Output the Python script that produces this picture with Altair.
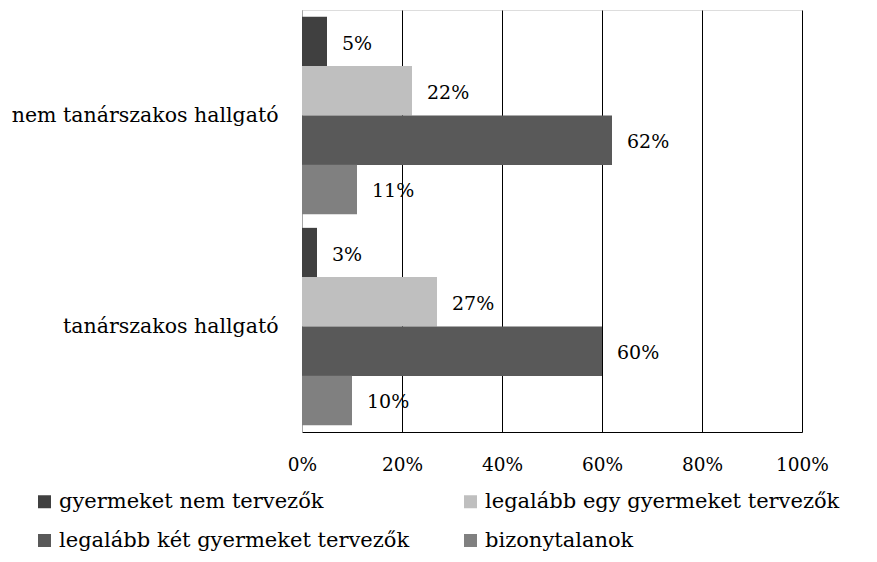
import altair as alt
import pandas as pd

groups = ["nem tanárszakos hallgató", "tanárszakos hallgató"]
series = [
    "gyermeket nem tervezők",
    "legalább egy gyermeket tervezők",
    "legalább két gyermeket tervezők",
    "bizonytalanok",
]
values_nem_tanar = [5, 22, 62, 11]
values_tanar = [3, 27, 60, 10]
colors = ["#404040", "#bfbfbf", "#595959", "#808080"]
x_ticks = [0, 20, 40, 60, 80, 100]

rows = []
for g, vals in zip(groups, [values_nem_tanar, values_tanar]):
    for s, v in zip(series, vals):
        rows.append({"csoport": g, "sorozat": s, "ertek": v, "cimke": f"{v}%"})
df = pd.DataFrame(rows)

FONT = "DejaVu Serif"

y_enc = alt.Y(
    "csoport:N",
    sort=groups,
    scale=alt.Scale(paddingInner=0.066, paddingOuter=0.033),
    axis=alt.Axis(
        title=None,
        ticks=False,
        labelFont=FONT,
        labelFontSize=20.5,
        labelColor="black",
        labelPadding=24,
        domainColor="#a6a6a6",
        labelLimit=400,
    ),
)
yoff = alt.YOffset("sorozat:N", sort=series)
x_enc = alt.X(
    "ertek:Q",
    scale=alt.Scale(domain=[0, 100]),
    axis=alt.Axis(
        title=None,
        values=x_ticks,
        ticks=False,
        labelFlush=False,
        labelExpr="datum.value + '%'",
        labelFont=FONT,
        labelFontSize=18.5,
        labelColor="black",
        labelPadding=23,
        domainColor="black",
        gridColor={"condition": {"test": "datum.value === 0", "value": "#a6a6a6"}, "value": "black"},
        gridOpacity=1,
        gridWidth=1,
    ),
)

bars = alt.Chart(df).mark_bar(size=49.5).encode(
    y=y_enc,
    yOffset=yoff,
    x=x_enc,
    color=alt.Color(
        "sorozat:N",
        sort=series,
        scale=alt.Scale(domain=series, range=colors),
        legend=alt.Legend(
            title=None,
            orient="none",
            direction="horizontal",
            legendX=-268,
            legendY=481,
            columns=2,
            columnPadding=50,
            rowPadding=17,
            symbolType="square",
            symbolSize=169,
            symbolStrokeWidth=0,
            labelFont=FONT,
            labelFontSize=21,
            labelColor="black",
            labelOffset=4,
            labelLimit=500,
        ),
    ),
)

labels = alt.Chart(df).mark_text(
    align="left", baseline="middle", dx=15, dy=2, font=FONT, fontSize=19, color="black"
).encode(
    y=alt.Y("csoport:N", sort=groups),
    yOffset=yoff,
    x="ertek:Q",
    text="cimke:N",
)

chart = (
    alt.layer(bars, labels)
    .properties(
        width=500,
        height=422,
        autosize=alt.AutoSizeParams(type="none"),
        padding={"left": 294, "top": 2, "right": 59, "bottom": 122},
    )
    .configure_view(stroke=None)
    .configure(background="white")
)

chart.save("out.html", embed_options={"renderer": "svg", "actions": False})
